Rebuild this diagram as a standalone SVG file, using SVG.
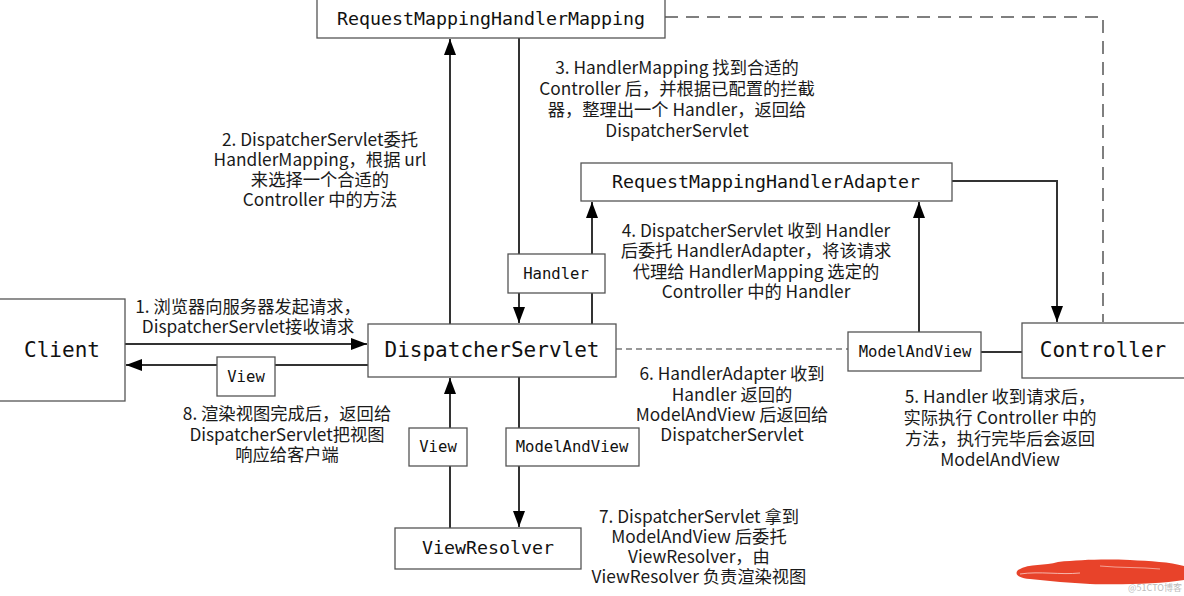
<svg xmlns="http://www.w3.org/2000/svg" width="1184" height="596" viewBox="0 0 1184 596">
<style>
.box{fill:#fff;stroke:#555;stroke-width:1.3}
.mono{font-family:"DejaVu Sans Mono","Liberation Mono",monospace;fill:#111;text-anchor:middle}
.big{font-size:21px}
.mid{font-size:18.3px}
.sm{font-size:15.6px}
.lbl{font-family:"Noto Sans CJK SC","Noto Sans",sans-serif;font-size:17.3px;fill:#1a1a1a;text-anchor:middle}
.ln{fill:none;stroke:#333;stroke-width:2}
.arr{marker-end:url(#ah)}
.dash1{fill:none;stroke:#555;stroke-width:1.5;stroke-dasharray:13 8}
.dash2{fill:none;stroke:#777;stroke-width:1.3;stroke-dasharray:6 4}
</style>
<defs>
<marker id="ah" markerUnits="userSpaceOnUse" markerWidth="16" markerHeight="12" refX="16" refY="6" orient="auto">
<path d="M0,0 L16,6 L0,12 z" fill="#000"/>
</marker>
</defs>
<rect width="1184" height="596" fill="#fff"/>

<g id="connectors">
<path class="ln arr" d="M450,324 V39"/>
<path class="ln arr" d="M519,38 V323"/>
<path class="ln arr" d="M592,324 V202"/>
<path class="ln arr" d="M919,332 V202"/>
<path class="ln arr" d="M952,181 H1057 V322"/>
<path class="ln" d="M981,352 H1022"/>
<path class="dash2" d="M616,349 H848"/>
<path class="dash1" d="M665,17 H1103 V322"/>
<path class="ln arr" d="M125,344 H367"/>
<path class="ln arr" d="M368,365 H126"/>
<path class="ln arr" d="M450,528 V378"/>
<path class="ln arr" d="M519,377 V527"/>
</g>

<g id="RequestMappingHandlerMapping">
<rect class="box" x="317" y="-1" width="348" height="39"/>
<text class="mono mid" x="491" y="25">RequestMappingHandlerMapping</text>
</g>
<g id="RequestMappingHandlerAdapter">
<rect class="box" x="581" y="163" width="371" height="38"/>
<text class="mono mid" x="766" y="188">RequestMappingHandlerAdapter</text>
</g>
<g id="Client">
<rect class="box" x="-1" y="299" width="126" height="102"/>
<text class="mono big" x="62" y="357">Client</text>
</g>
<g id="DispatcherServlet">
<rect class="box" x="368" y="324" width="248" height="53"/>
<text class="mono big" x="492" y="357">DispatcherServlet</text>
</g>
<g id="Controller">
<rect class="box" x="1022" y="323" width="165" height="55"/>
<text class="mono big" x="1103" y="357">Controller</text>
</g>
<g id="ViewResolver">
<rect class="box" x="395" y="528" width="186" height="41"/>
<text class="mono mid" x="488" y="554">ViewResolver</text>
</g>
<g id="HandlerTag">
<rect class="box" x="508" y="254" width="97" height="39"/>
<text class="mono sm" x="556" y="279">Handler</text>
</g>
<g id="ViewTagLeft">
<rect class="box" x="217" y="357" width="58" height="39"/>
<text class="mono sm" x="246" y="382">View</text>
</g>
<g id="ViewTagBottom">
<rect class="box" x="409" y="428" width="58" height="38"/>
<text class="mono sm" x="438" y="452">View</text>
</g>
<g id="ModelAndViewTagBottom">
<rect class="box" x="506" y="428" width="133" height="38"/>
<text class="mono sm" x="572" y="452">ModelAndView</text>
</g>
<g id="ModelAndViewTagRight">
<rect class="box" x="848" y="332" width="133" height="39"/>
<text class="mono sm" x="915" y="357">ModelAndView</text>
</g>

<g id="label1" class="lbl">
<text x="248" y="313">1. 浏览器向服务器发起请求，</text>
<text x="248" y="333">DispatcherServlet接收请求</text>
</g>
<g id="label2" class="lbl">
<text x="320" y="146">2. DispatcherServlet委托</text>
<text x="320" y="166">HandlerMapping，根据 url</text>
<text x="320" y="186">来选择一个合适的</text>
<text x="320" y="206">Controller 中的方法</text>
</g>
<g id="label3" class="lbl">
<text x="677" y="74">3. HandlerMapping 找到合适的</text>
<text x="677" y="95">Controller 后，并根据已配置的拦截</text>
<text x="677" y="116">器，整理出一个 Handler，返回给</text>
<text x="677" y="137">DispatcherServlet</text>
</g>
<g id="label4" class="lbl">
<text x="756" y="237">4. DispatcherServlet 收到 Handler</text>
<text x="756" y="257">后委托 HandlerAdapter，将该请求</text>
<text x="756" y="278">代理给 HandlerMapping 选定的</text>
<text x="756" y="298">Controller 中的 Handler</text>
</g>
<g id="label5" class="lbl">
<text x="1000" y="403">5. Handler 收到请求后，</text>
<text x="1000" y="424">实际执行 Controller 中的</text>
<text x="1000" y="445">方法，执行完毕后会返回</text>
<text x="1000" y="466">ModelAndView</text>
</g>
<g id="label6" class="lbl">
<text x="732" y="380">6. HandlerAdapter 收到</text>
<text x="732" y="401">Handler 返回的</text>
<text x="732" y="421">ModelAndView 后返回给</text>
<text x="732" y="441">DispatcherServlet</text>
</g>
<g id="label7" class="lbl">
<text x="699" y="523">7. DispatcherServlet 拿到</text>
<text x="699" y="543">ModelAndView 后委托</text>
<text x="699" y="563">ViewResolver，由</text>
<text x="699" y="583">ViewResolver 负责渲染视图</text>
</g>
<g id="label8" class="lbl">
<text x="287" y="420">8. 渲染视图完成后，返回给</text>
<text x="287" y="441">DispatcherServlet把视图</text>
<text x="287" y="461">响应给客户端</text>
</g>

<g id="redaction">
<path d="M1018,570 C1030,563 1045,566 1058,562 C1080,560 1100,559 1130,560 C1150,561 1170,562 1184,566 L1184,580 C1160,584 1120,585 1090,584 C1070,583 1050,581 1030,579 C1018,578 1014,574 1018,570 z" fill="#e8432a"/>
<path d="M1020,574 C1040,571 1060,575 1080,573" fill="none" stroke="#fff" stroke-width="1" opacity="0.6"/>
<path d="M1100,566 C1120,568 1140,567 1160,569" fill="none" stroke="#fff" stroke-width="1" opacity="0.5"/>
</g>
<text x="1182" y="591" font-family="Noto Sans CJK SC,sans-serif" font-size="9" fill="#bbb" text-anchor="end">@51CTO博客</text>
</svg>
